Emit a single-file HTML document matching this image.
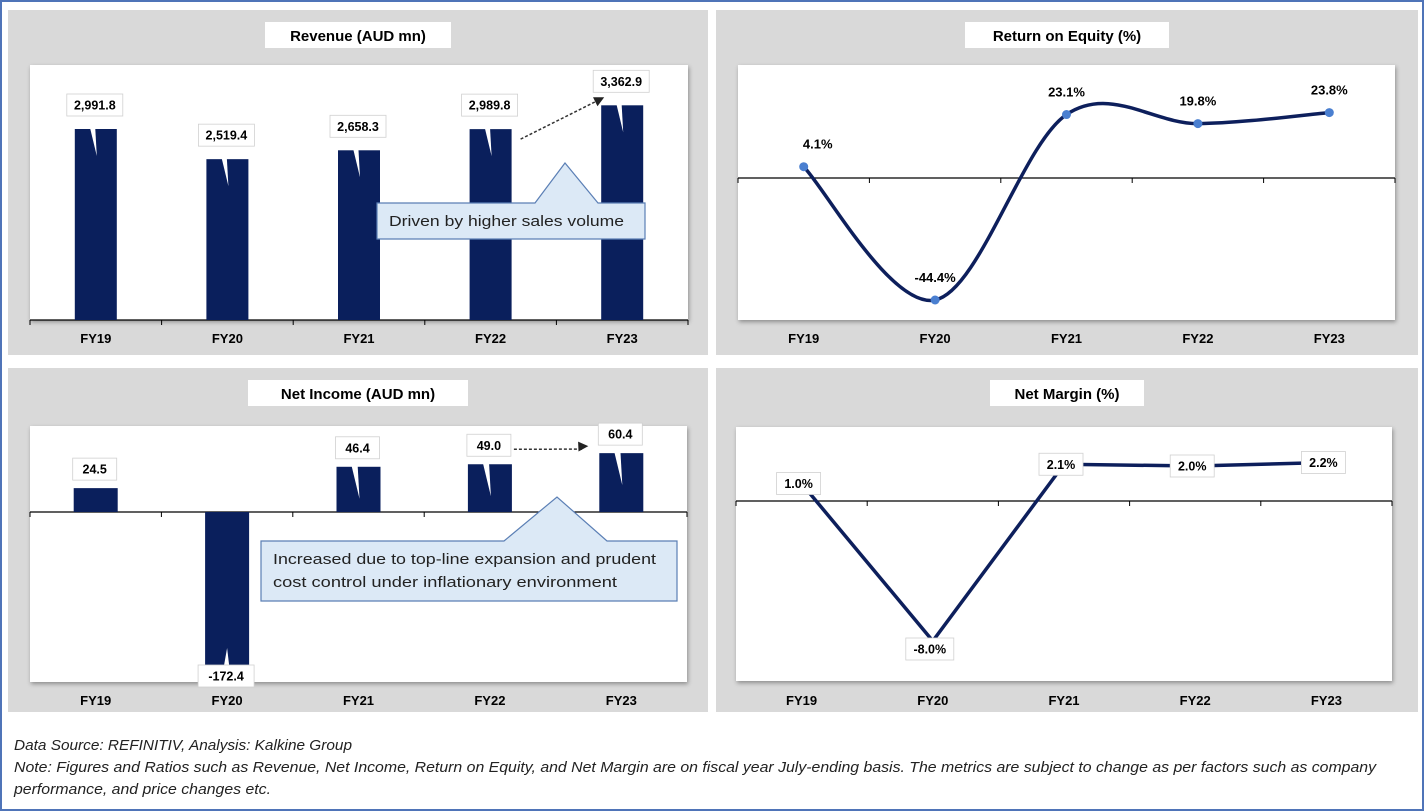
<!DOCTYPE html>
<html><head><meta charset="utf-8"><style>
html,body{margin:0;padding:0;background:#fff;}
svg{display:block;font-family:"Liberation Sans",sans-serif;}
</style></head><body>
<svg id="s" width="1425" height="812" xmlns="http://www.w3.org/2000/svg">
<rect x="1" y="1" width="1422" height="809" fill="#fff" stroke="#4f74b8" stroke-width="2"/>
<text x="14" y="750" font-size="14.5" font-style="italic" fill="#222" textLength="338" lengthAdjust="spacingAndGlyphs">Data Source: REFINITIV, Analysis: Kalkine Group</text>
<text x="14" y="772" font-size="14.5" font-style="italic" fill="#222" textLength="1362" lengthAdjust="spacingAndGlyphs">Note: Figures and Ratios such as Revenue, Net Income, Return on Equity, and Net Margin are on fiscal year July-ending basis. The metrics are subject to change as per factors such as company</text>
<text x="14" y="794" font-size="14.5" font-style="italic" fill="#222" textLength="257" lengthAdjust="spacingAndGlyphs">performance, and price changes etc.</text>
</svg>
<script>
const categories=["FY19","FY20","FY21","FY22","FY23"];
const revenueValues=[2991.8,2519.4,2658.3,2989.8,3362.9];
const revenueLabels=["2,991.8","2,519.4","2,658.3","2,989.8","3,362.9"];
const roeValues=[4.1,-44.4,23.1,19.8,23.8];
const roeLabels=["4.1%","-44.4%","23.1%","19.8%","23.8%"];
const netIncomeValues=[24.5,-172.4,46.4,49.0,60.4];
const netIncomeLabels=["24.5","-172.4","46.4","49.0","60.4"];
const marginValues=[1.0,-8.0,2.1,2.0,2.2];
const marginLabels=["1.0%","-8.0%","2.1%","2.0%","2.2%"];

const NS="http://www.w3.org/2000/svg";
const svg=document.getElementById('s');
function mk(tag,attrs,parent){const e=document.createElementNS(NS,tag);for(const k in attrs)e.setAttribute(k,attrs[k]);(parent||svg).appendChild(e);return e;}

function panel(x,y,w,h,title,tw,name){
  const g=mk('g',{});
  
  
  mk('rect',{x:x,y:y,width:w,height:h,fill:'#d9d9d9'},g);
  const tb=mk('rect',{x:x+w/2-tw/2,y:y+12,width:tw,height:26,fill:'#fff'},g);
  
  
  const t=mk('text',{x:x+w/2,y:y+31,'text-anchor':'middle','font-size':15,'font-weight':'bold',fill:'#000'},g);
  t.textContent=title;
  
  
  return g;
}
function plotArea(g,px,py,pw,ph){
  const r=mk('rect',{x:px,y:py,width:pw,height:ph,fill:'#fff',style:'filter:drop-shadow(1px 2px 2px rgba(0,0,0,0.35))'},g);
  
  
}
function xAxis(g,px,pw,ay,ly){
  const step=pw/categories.length;
  const l=mk('line',{x1:px,y1:ay,x2:px+pw,y2:ay,stroke:'#000','stroke-width':1.2},g);
  
  
  for(let i=0;i<=categories.length;i++){
    mk('line',{x1:px+i*step,y1:ay,x2:px+i*step,y2:ay+5,stroke:'#000'},g);
  }
  categories.forEach((c,i)=>{
    const t=mk('text',{x:px+step*(i+0.5),y:ly,'text-anchor':'middle','font-size':13,'font-weight':'bold',fill:'#000'},g);
    t.textContent=c;
    
    
  });
  return i=>px+step*(i+0.5);
}
function label(g,cx,cy,txt,w){
  const bw=w||(txt.length*7.5+10);
  const r=mk('rect',{x:cx-bw/2,y:cy-11,width:bw,height:22,fill:'#fff',stroke:'#d0d0d0','stroke-width':0.8},g);
  
  
  const t=mk('text',{x:cx,y:cy+4.5,'text-anchor':'middle','font-size':12.5,'font-weight':'bold',fill:'#000'},g);
  t.textContent=txt;
  
  
}
function callout(g,bx,by,bw,bh,tipX,tipY,b1,b2,lines,lens,name){
  const p=mk('path',{d:`M${bx},${by} H${b1} L${tipX},${tipY} L${b2},${by} H${bx+bw} V${by+bh} H${bx} Z`,fill:'#dce9f6',stroke:'#5b7fb5','stroke-width':1.2},g);
  
  
  lines.forEach((ln,i)=>{
    const t=mk('text',{x:bx+12,y:by+23+i*23,'font-size':15,fill:'#222',textLength:lens[i],lengthAdjust:'spacingAndGlyphs'},g);
    t.textContent=ln;
    
    
  });
}
function arrow(g,x1,y1,x2,y2){
  const l=mk('line',{x1:x1,y1:y1,x2:x2-6,y2:y2+3,stroke:'#333','stroke-width':1.5,'stroke-dasharray':'3,2'},g);
  
  
  const a=Math.atan2(y2-y1,x2-x1);
  const p=[[x2,y2],[x2-10*Math.cos(a)+5*Math.sin(a),y2-10*Math.sin(a)-5*Math.cos(a)],[x2-10*Math.cos(a)-5*Math.sin(a),y2-10*Math.sin(a)+5*Math.cos(a)]];
  mk('polygon',{points:p.map(q=>q.join(',')).join(' '),fill:'#222'},g);
}
function pointer(g,x1,x2,tipX,tipY,baseY){
  mk('polygon',{points:`${x1},${baseY} ${x2},${baseY} ${tipX},${tipY}`,fill:'#fff'},g);
}
const navy='#0d1f5c', bar='#0a1f5c';

// ---------- Revenue ----------
{
  const g=panel(8,10,700,345,'Revenue (AUD mn)',186,'revenue-panel');
  const px=30,py=65,pw=658,ph=255;
  plotArea(g,px,py,pw,ph);
  const base=320, sc=191/2991.8;
  const y=v=>base-v*sc;
  const xs=xAxis(g,px,pw,base,343);
  revenueValues.forEach((v,i)=>{
    const r=mk('rect',{x:xs(i)-21,y:y(v),width:42,height:base-y(v),fill:bar},g);
    
    
  });
  revenueValues.forEach((v,i)=>{
    pointer(g,xs(i)-12,xs(i)-2,xs(i)+1,y(v)+27,y(v)-27);
    label(g,xs(i)-1,y(v)-24,revenueLabels[i],56);
  });
  arrow(g,xs(3)+30,y(revenueValues[3])+10,xs(4)-18,y(revenueValues[4])-8);
  callout(g,377,203,268,36,565,163,535,598,['Driven by higher sales volume'],[235],'revenue-callout');
}

// ---------- ROE ----------
{
  const g=panel(716,10,702,345,'Return on Equity (%)',204,'roe-panel');
  const px=738,py=65,pw=657,ph=255;
  plotArea(g,px,py,pw,ph);
  const zero=178, sc=122/44.4;
  const y=v=>zero-v*sc;
  const xs=xAxis(g,px,pw,zero,343);
  const pts=roeValues.map((v,i)=>[xs(i),y(v)]);
  let d=`M${pts[0][0]},${pts[0][1]}`;
  for(let i=0;i<pts.length-1;i++){
    const p0=pts[Math.max(0,i-1)],p1=pts[i],p2=pts[i+1],p3=pts[Math.min(pts.length-1,i+2)];
    const c1=[p1[0]+(p2[0]-p0[0])/6,p1[1]+(p2[1]-p0[1])/6];
    const c2=[p2[0]-(p3[0]-p1[0])/6,p2[1]-(p3[1]-p1[1])/6];
    d+=` C${c1[0]},${c1[1]} ${c2[0]},${c2[1]} ${p2[0]},${p2[1]}`;
  }
  const path=mk('path',{d:d,fill:'none',stroke:navy,'stroke-width':3.5},g);
  
  
  pts.forEach((p,i)=>{
    const c=mk('circle',{cx:p[0],cy:p[1],r:4.5,fill:'#4a7fd0'},g);
    
    
    const t=mk('text',{x:p[0]+(i==0?14:0),y:p[1]-18,'text-anchor':'middle','font-size':13,'font-weight':'bold',fill:'#000'},g);
    t.textContent=roeLabels[i];
    
    
  });
}

// ---------- Net Income ----------
{
  const g=panel(8,368,700,344,'Net Income (AUD mn)',220,'net-income-panel');
  const px=30,py=426,pw=657,ph=256;
  plotArea(g,px,py,pw,ph);
  const zero=512, sc=168/172.4;
  const y=v=>zero-v*sc;
  const xs=xAxis(g,px,pw,zero,705);
  netIncomeValues.forEach((v,i)=>{
    const top=Math.min(y(v),zero),h=Math.abs(y(v)-zero);
    const r=mk('rect',{x:xs(i)-22,y:top,width:44,height:h,fill:bar},g);
    
    
  });
  netIncomeValues.forEach((v,i)=>{
    if(v>=0){
      if(i>0) pointer(g,xs(i)-12,xs(i)-2,xs(i)+1,y(v)+32,y(v)-22);
      label(g,xs(i)-1,y(v)-19,netIncomeLabels[i],44);
    } else {
      pointer(g,xs(i)-6,xs(i)+4,xs(i),y(v)-32,y(v)+2);
      label(g,xs(i)-1,y(v)-4,netIncomeLabels[i],56);
    }
  });
  arrow(g,xs(3)+24,y(netIncomeValues[3])-15,xs(4)-33,y(netIncomeValues[4])-7);
  callout(g,261,541,416,60,557,497,504,607,['Increased due to top-line expansion and prudent','cost control under inflationary environment'],[383,344],'net-income-callout');
}

// ---------- Net Margin ----------
{
  const g=panel(716,368,702,344,'Net Margin (%)',154,'net-margin-panel');
  const px=736,py=427,pw=656,ph=254;
  plotArea(g,px,py,pw,ph);
  const zero=501, sc=17.5;
  const y=v=>zero-v*sc;
  const xs=xAxis(g,px,pw,zero,705);
  const pts=marginValues.map((v,i)=>[xs(i),y(v)]);
  const pl=mk('polyline',{points:pts.map(p=>p.join(',')).join(' '),fill:'none',stroke:navy,'stroke-width':3.5},g);
  
  
  pts.forEach((p,i)=>{
    const dy=i==1?8:0;
    label(g,p[0]-3,p[1]+dy,marginLabels[i],i==1?48:44);
  });
}
</script>
</body></html>
